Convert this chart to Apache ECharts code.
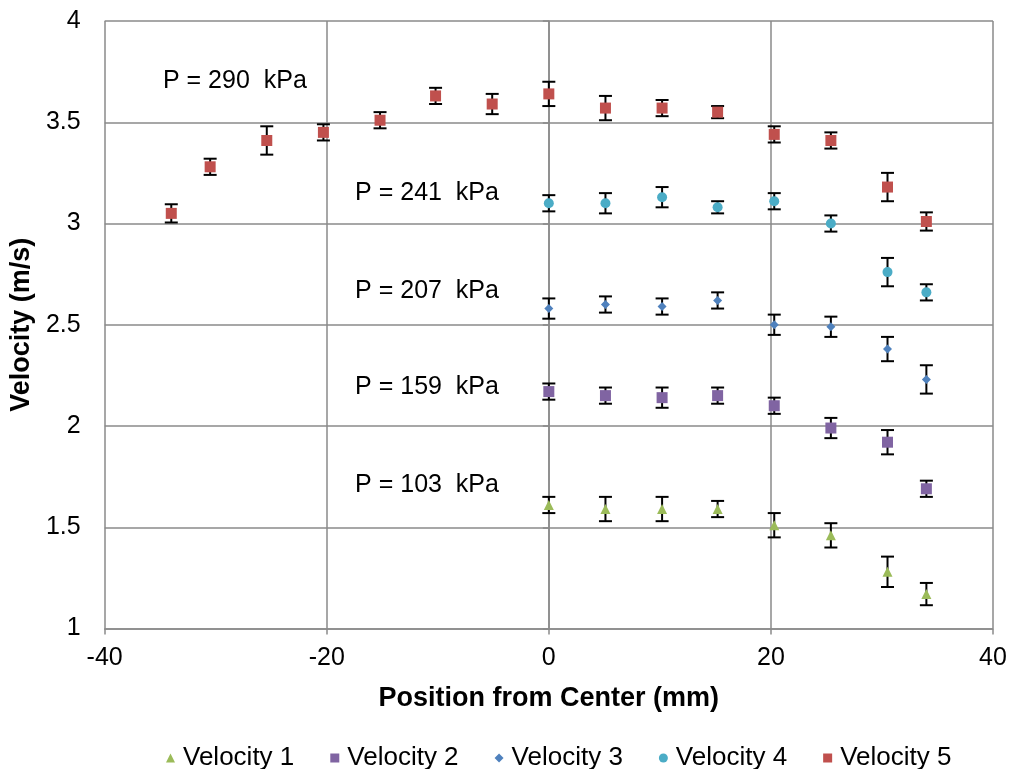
<!DOCTYPE html>
<html>
<head>
<meta charset="utf-8">
<script src="https://cdn.jsdelivr.net/npm/echarts@6/dist/echarts.min.js"></script>
<style>
html,body{margin:0;padding:0;background:#fff;}
#chart{width:1011px;height:769px;}
</style>
</head>
<body>
<div id="chart"></div>
<script>
// Measurement positions (mm from pipe center)
const posFull = [-34, -30.5, -25.4, -20.3, -15.2, -10.2, -5.1, 0, 5.1, 10.2, 15.2, 20.3, 25.4, 30.5, 34];
const posHalf = [0, 5.1, 10.2, 15.2, 20.3, 25.4, 30.5, 34];

// Mean velocities (m/s) and error half-widths
const vel1 = [1.61, 1.59, 1.59, 1.59, 1.51, 1.46, 1.28, 1.17];
const err1 = [0.04, 0.06, 0.06, 0.04, 0.06, 0.06, 0.075, 0.055];
const vel2 = [2.17, 2.15, 2.14, 2.15, 2.10, 1.99, 1.92, 1.69];
const err2 = [0.04, 0.04, 0.05, 0.04, 0.04, 0.05, 0.06, 0.04];
const vel3 = [2.58, 2.60, 2.59, 2.62, 2.50, 2.49, 2.38, 2.23];
const err3 = [0.05, 0.04, 0.04, 0.04, 0.05, 0.05, 0.06, 0.07];
const vel4 = [3.10, 3.10, 3.13, 3.08, 3.11, 3.00, 2.76, 2.66];
const err4 = [0.04, 0.05, 0.05, 0.03, 0.04, 0.04, 0.07, 0.04];
const vel5 = [3.05, 3.28, 3.41, 3.45, 3.51, 3.63, 3.59, 3.64, 3.57, 3.57, 3.55, 3.44, 3.41, 3.18, 3.01];
const err5 = [0.045, 0.04, 0.07, 0.04, 0.04, 0.04, 0.05, 0.06, 0.06, 0.04, 0.03, 0.04, 0.04, 0.07, 0.045];

const seriesNames = ['Velocity 1', 'Velocity 2', 'Velocity 3', 'Velocity 4', 'Velocity 5'];
const pressureLabels = ['P = 103  kPa', 'P = 159  kPa', 'P = 207  kPa', 'P = 241  kPa', 'P = 290  kPa'];
const labelAnchors = [[-17.45, 1.71], [-17.45, 2.194], [-17.45, 2.668], [-17.45, 3.151], [-34.75, 3.704]];

const xTicks = {min: -40, max: 40, interval: 20};
const yTicks = {min: 1, max: 4, interval: 0.5};

const colors = ['#9BBB59', '#8064A2', '#4F81BD', '#4BACC6', '#C0504D'];
const symbols = ['triangle', 'rect', 'diamond', 'circle', 'rect'];
const sizes = [10, 11, 9, 10, 11];

const groups = [
  [posHalf, vel1, err1],
  [posHalf, vel2, err2],
  [posHalf, vel3, err3],
  [posHalf, vel4, err4],
  [posFull, vel5, err5]
];

const FONT = '"Liberation Sans", Arial, sans-serif';
const GRID = '#8a8a8a';

const series = [];
groups.forEach(function (g, i) {
  const xs = g[0], vs = g[1], es = g[2];
  series.push({
    name: seriesNames[i] + ' err',
    type: 'custom',
    z: 2,
    silent: true,
    data: xs.map(function (x, k) { return [x, vs[k] - es[k], vs[k] + es[k]]; }),
    renderItem: function (params, api) {
      const lo = api.coord([api.value(0), api.value(1)]);
      const hi = api.coord([api.value(0), api.value(2)]);
      const cap = 6.5;
      const style = {stroke: '#000', lineWidth: 2};
      return {
        type: 'group',
        children: [
          {type: 'line', shape: {x1: lo[0], y1: lo[1], x2: hi[0], y2: hi[1]}, style: style},
          {type: 'line', shape: {x1: lo[0] - cap, y1: lo[1], x2: lo[0] + cap, y2: lo[1]}, style: style},
          {type: 'line', shape: {x1: hi[0] - cap, y1: hi[1], x2: hi[0] + cap, y2: hi[1]}, style: style}
        ]
      };
    }
  });
  series.push({
    name: seriesNames[i],
    type: 'scatter',
    z: 3,
    symbol: symbols[i],
    symbolSize: sizes[i],
    itemStyle: {color: colors[i], opacity: 1},
    data: xs.map(function (x, k) { return [x, vs[k]]; })
  });
});

const chart = echarts.init(document.getElementById('chart'));
chart.setOption({
  animation: false,
  backgroundColor: '#fff',
  grid: {left: 104, right: 18, top: 21, bottom: 140.5, containLabel: false},
  legend: {
    top: 740,
    left: 161,
    data: seriesNames.map(function (n, i) {
      return {name: n, icon: symbols[i]};
    }),
    itemWidth: 9,
    itemHeight: 9,
    itemGap: 36,
    textStyle: {color: '#000', fontSize: 26, fontFamily: FONT, padding: [0, 0, 0, 3]}
  },
  xAxis: {
    type: 'value',
    min: xTicks.min, max: xTicks.max, interval: xTicks.interval,
    name: 'Position from Center (mm)',
    nameLocation: 'middle',
    nameGap: 57,
    nameTextStyle: {color: '#000', fontSize: 27, fontWeight: 'bold', fontFamily: FONT},
    axisLine: {show: true, lineStyle: {color: GRID, width: 1.5}},
    axisTick: {show: true, length: 6, lineStyle: {color: GRID, width: 1.5}},
    axisLabel: {color: '#000', fontSize: 25, fontFamily: FONT, margin: 17},
    splitLine: {show: true, lineStyle: {color: GRID, width: 1.5}}
  },
  yAxis: {
    type: 'value',
    min: yTicks.min, max: yTicks.max, interval: yTicks.interval,
    name: 'Velocity (m/s)',
    nameLocation: 'middle',
    nameGap: 65,
    nameTextStyle: {color: '#000', fontSize: 27, fontWeight: 'bold', fontFamily: FONT},
    axisLine: {show: true, lineStyle: {color: GRID, width: 1.5}},
    axisTick: {show: true, length: 6, lineStyle: {color: GRID, width: 1.5}},
    axisLabel: {color: '#000', fontSize: 25, fontFamily: FONT, margin: 24},
    splitLine: {show: true, lineStyle: {color: GRID, width: 1.5}}
  },
  series: series
});

// Pressure annotations, placed at data-space anchors
chart.setOption({
  graphic: labelAnchors.map(function (p, i) {
    const px = chart.convertToPixel({gridIndex: 0}, p);
    return {
      type: 'text',
      x: px[0],
      y: px[1],
      z: 10,
      style: {
        text: pressureLabels[i],
        fill: '#000',
        font: '25px ' + FONT,
        textVerticalAlign: 'middle',
        verticalAlign: 'middle',
        align: 'left'
      }
    };
  })
});
</script>
</body>
</html>
